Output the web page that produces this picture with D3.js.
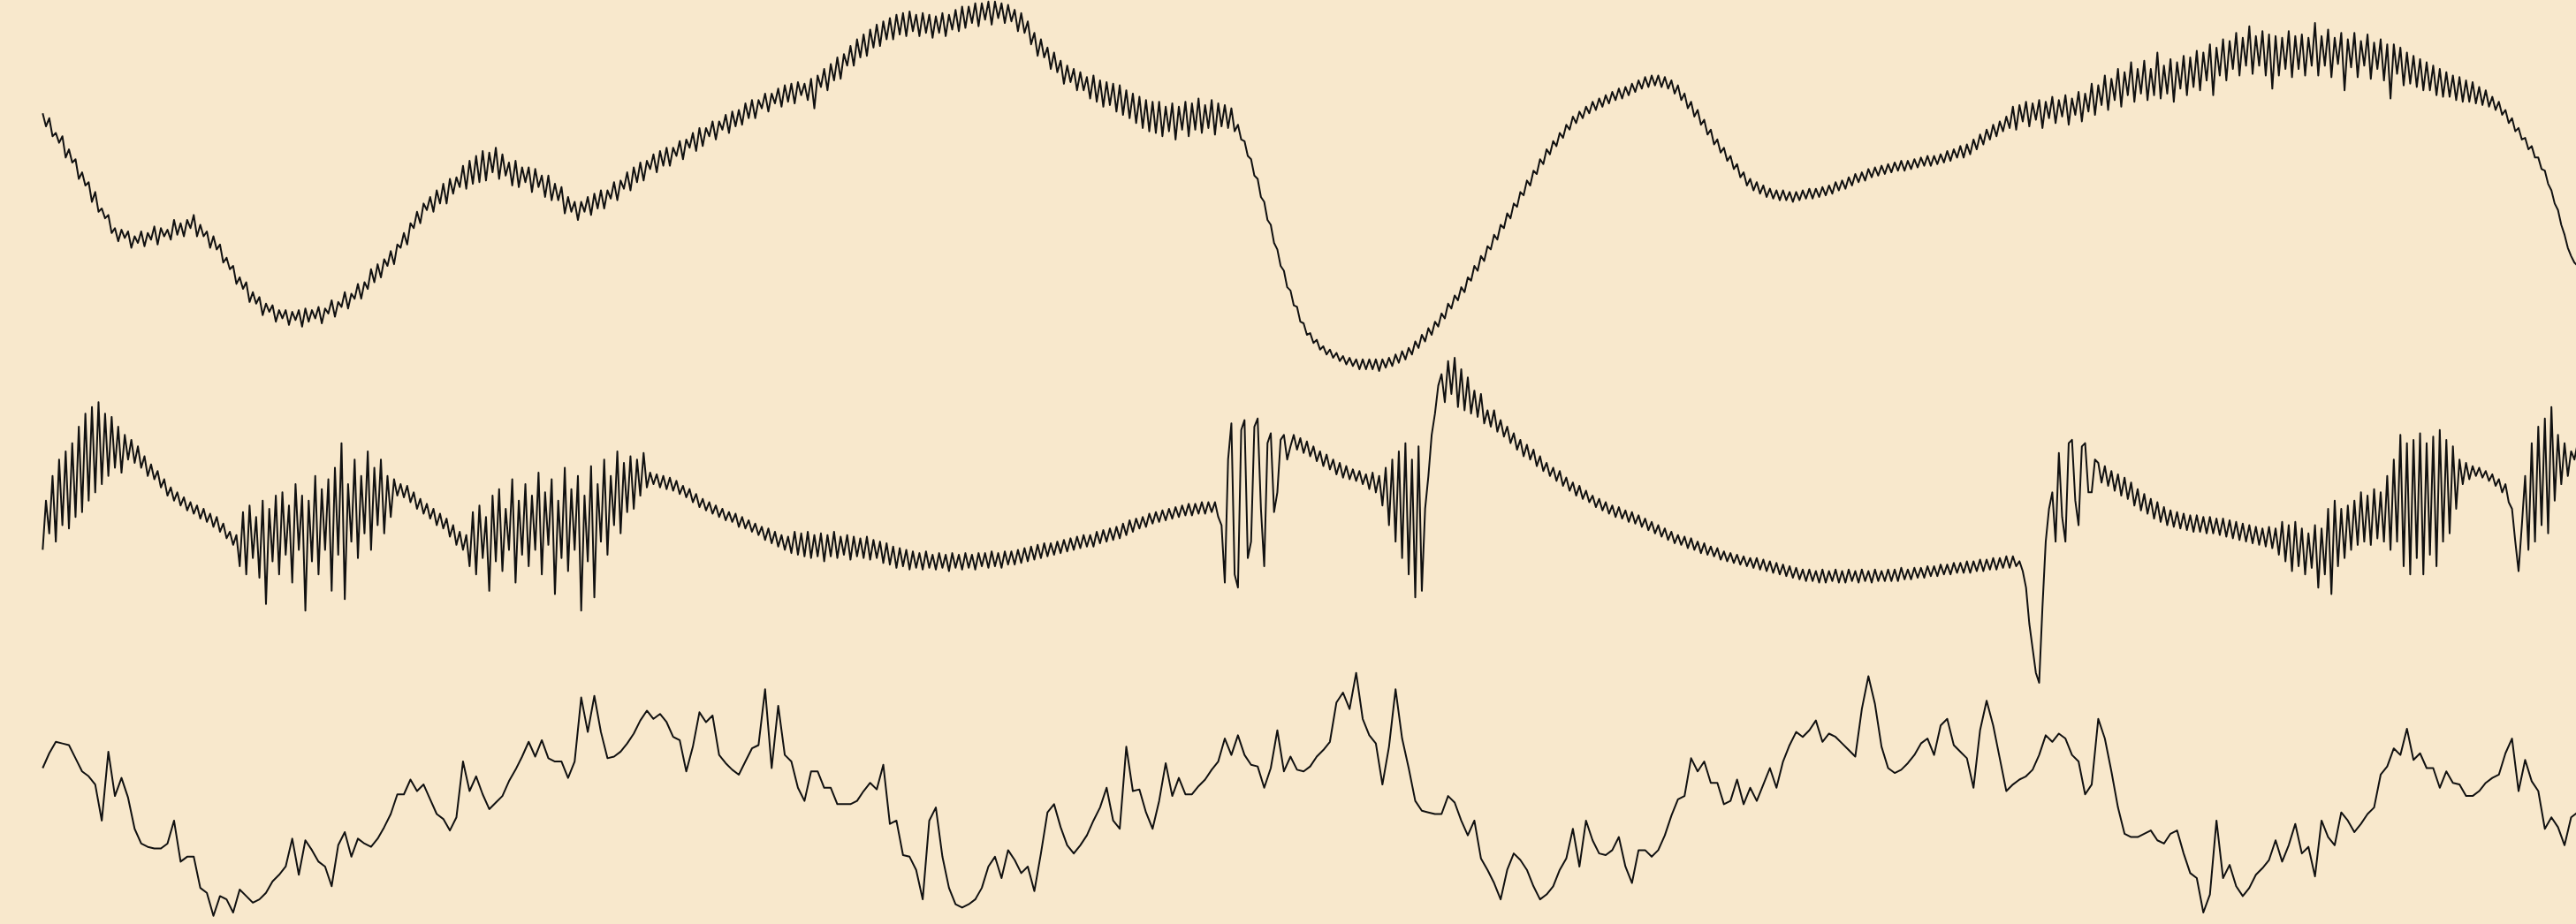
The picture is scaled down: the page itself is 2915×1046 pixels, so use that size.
<!DOCTYPE html>
<meta charset="utf-8">
<style>
body { margin: 0; background: #f8e8cc; }
svg { display: block; }
</style>
<svg width="2915" height="1046"></svg>
<script src="https://d3js.org/d3.v7.min.js"></script>
<script>

// top trace, read every half step
var series1 = [
161,153,158,147,149,143,147,134,139,131,133,121,125,117,119,107,113,101,103,97,
99,88,91,83,90,85,89,79,86,82,89,80,88,84,92,81,91,86,90,84,
96,87,94,86,96,91,99,86,93,86,89,79,86,78,81,70,73,66,68,57,
61,54,58,46,52,45,49,38,45,40,44,34,41,36,41,32,40,35,41,31,
42,34,41,36,43,33,42,39,47,37,46,43,52,42,51,48,57,48,58,54,
66,58,69,61,72,68,77,69,81,79,88,81,94,91,101,94,106,102,110,101,
114,106,118,106,121,112,122,116,129,115,132,118,135,119,138,120,137,125,140,121,
136,123,131,117,132,116,128,119,128,113,127,116,123,110,123,108,118,108,116,100,
110,101,107,96,107,101,110,99,112,103,114,103,114,109,119,108,120,115,125,114,
128,119,131,120,132,127,136,125,138,129,140,129,140,135,144,133,145,140,149,138,
152,141,152,147,156,145,156,151,160,149,162,153,163,154,167,158,169,158,169,164,
173,162,173,167,176,165,178,168,179,167,180,172,179,169,182,164,184,177,188,175,
191,181,195,182,197,190,202,190,206,195,209,196,212,201,215,202,217,206,219,206,
221,209,222,208,223,211,221,208,222,210,221,207,220,210,222,208,221,212,224,211,
226,213,226,216,228,214,228,218,229,215,229,219,228,216,227,217,224,211,222,210,
217,203,210,196,206,195,201,188,198,186,193,179,190,180,188,175,186,175,183,170,
184,168,181,165,180,166,179,162,178,160,175,158,173,155,171,152,169,150,168,149,
168,147,165,150,167,145,165,151,168,147,167,151,170,149,166,152,169,148,167,153,
166,152,164,150,154,145,144,135,133,123,121,110,107,96,93,82,78,68,65,55,
53,44,43,34,33,26,27,21,23,17,19,14,17,12,15,10,13,8,12,7,
11,5,11,5,11,5,11,4,11,6,12,7,14,9,16,11,18,14,22,18,
26,22,30,26,34,31,39,36,45,42,50,47,55,52,61,59,68,65,74,71,
80,78,87,84,93,91,100,97,106,104,113,111,120,117,126,124,133,130,139,136,
144,141,149,146,154,151,159,155,162,158,165,161,168,163,170,165,172,167,174,169,
176,170,177,172,179,174,181,176,183,177,184,178,184,177,183,176,181,173,178,169,
173,164,168,159,163,154,157,148,151,142,145,137,140,132,135,127,130,122,125,117,
121,114,119,112,117,110,115,109,114,108,114,108,113,107,113,108,114,109,115,109,
115,110,116,111,117,112,119,114,120,115,122,117,124,119,125,120,127,122,128,123,
129,124,130,125,131,126,132,126,132,127,133,128,134,129,135,129,135,130,136,131,
138,132,139,134,141,134,142,136,145,139,148,142,151,145,154,147,156,150,159,152,
165,151,166,156,168,153,167,157,169,152,168,158,171,155,169,159,172,154,170,160,
174,156,173,162,179,160,178,166,184,163,182,169,188,165,186,172,192,168,188,173,
193,169,188,172,198,170,190,173,194,168,192,176,196,172,195,177,199,175,198,181,
203,172,201,184,206,181,205,188,210,184,207,190,214,185,208,190,211,184,209,176,
208,184,207,188,211,183,208,188,209,184,207,190,216,184,208,190,212,183,207,191,
210,175,206,189,210,183,205,190,209,182,204,188,206,181,203,170,203,185,201,178,
198,179,196,177,194,175,192,175,190,172,188,171,186,171,184,169,183,168,181,168,
180,167,177,166,175,165,171,163,168,160,163,155,158,150,152,145,146,139,141,134,
134,127,126,118,114,106,102,93,87,79,74,70,68
]

// middle trace, read every half step
var series2 = [
95,125,105,140,100,150,110,155,108,160,115,170,118,178,125,182,130,185,135,178,
140,176,145,170,142,165,150,162,148,158,145,152,140,147,138,143,133,138,128,133,
125,130,122,127,119,124,117,122,114,120,112,117,109,115,106,111,102,106,98,104,
85,118,80,122,90,115,78,125,62,120,88,128,80,130,92,122,75,135,95,128,
58,125,88,140,80,132,95,138,70,145,92,160,65,135,100,150,90,140,105,155,
95,145,110,150,105,140,115,138,128,135,127,134,124,130,120,126,117,123,114,120,
110,117,108,114,103,110,98,106,95,104,85,118,80,122,90,115,70,128,88,132,
82,120,95,138,75,125,92,135,85,128,95,142,80,130,98,138,68,125,90,145,
82,132,95,140,58,128,88,146,66,135,100,150,92,140,110,155,105,148,118,152,
120,150,128,154,133,142,135,141,133,140,132,139,131,137,129,134,127,132,124,129,
121,126,119,124,117,122,115,120,113,118,112,117,109,115,108,113,106,111,104,109,
101,108,99,106,97,104,95,103,93,106,92,105,91,106,90,104,91,105,88,104,
91,106,90,103,92,104,89,103,91,102,90,103,89,101,90,100,87,99,86,97,
84,96,85,95,83,94,84,93,83,94,84,92,83,93,84,92,82,93,84,92,
83,93,84,92,83,93,85,93,84,94,85,93,84,94,86,94,86,95,87,96,
88,97,89,98,90,99,91,99,92,100,93,101,94,102,95,103,96,104,97,104,
97,106,99,107,100,108,101,109,102,111,104,113,106,114,108,115,109,117,111,118,
112,119,113,120,114,121,115,122,116,123,116,123,117,124,117,124,118,124,115,110,
75,150,172,80,72,168,174,90,100,170,175,120,85,160,166,118,130,162,165,150,
158,165,156,163,154,161,152,158,149,155,146,153,144,150,141,148,139,146,138,144,
137,143,135,141,132,142,130,140,122,145,110,150,100,155,90,160,80,150,66,158,
70,120,140,165,178,195,202,185,210,190,212,182,205,180,200,178,192,176,190,172,
180,170,180,167,174,164,170,160,166,156,162,152,159,150,156,146,152,143,148,140,
145,137,143,134,139,131,136,128,134,126,131,124,128,121,126,119,124,117,122,115,
121,114,119,112,118,111,116,109,114,107,112,105,110,103,108,101,106,99,104,98,
103,96,102,95,100,93,99,92,97,91,96,89,94,88,93,87,92,86,91,85,
90,84,90,83,89,82,88,81,87,80,86,79,85,78,84,77,83,76,83,76,
82,75,83,75,82,76,83,75,82,75,83,76,82,75,83,76,82,75,83,76,
82,76,83,76,83,76,84,77,83,77,84,78,84,78,85,79,85,79,86,80,
86,80,87,81,87,81,88,81,88,82,89,82,89,83,90,83,90,84,91,84,
91,85,88,82,72,50,35,20,14,60,100,120,130,100,154,115,100,160,162,125,
110,158,160,130,130,150,148,136,146,134,143,131,141,128,139,126,136,122,132,119,
129,117,126,114,124,112,121,110,119,109,118,108,117,107,116,106,116,106,115,105,
115,105,114,104,114,103,113,102,112,101,111,100,110,99,109,98,108,97,109,96,
108,92,112,88,110,82,112,85,108,80,105,84,110,72,108,80,120,68,125,85,
120,90,122,95,125,98,130,100,128,98,132,102,130,100,140,95,150,100,165,85,
160,80,162,90,166,80,160,92,164,85,168,100,162,105,158,120,150,135,148,138,
146,140,145,139,143,137,141,134,138,130,135,124,120,100,82,110,140,95,160,100,
170,110,175,105,182,125,165,135,160,140,155,150,160
]

// bottom trace, read every step
var series3 = [
102,111,118,117,116,108,100,97,92,70,
112,85,96,84,65,56,54,53,53,56,
70,45,48,48,29,26,12,24,22,14,
28,24,20,22,26,33,37,42,59,37,
58,52,45,42,30,55,63,48,59,56,
54,59,66,74,86,86,95,88,92,83,
74,71,64,72,106,88,97,86,77,81,
85,94,101,109,118,109,119,108,106,106,
96,106,145,124,146,124,108,109,112,117,
123,131,137,132,135,130,121,119,100,115,
136,130,134,110,105,101,98,106,114,116,
150,102,140,110,106,90,82,100,100,90,
90,80,80,80,82,88,93,89,104,68,
70,49,48,40,22,70,78,48,29,19,
17,19,22,29,42,48,35,52,46,38,
42,27,50,75,80,66,55,50,55,61,
70,78,90,70,65,115,88,89,75,65,
82,105,85,96,86,86,91,95,101,106,
120,110,122,110,104,103,90,102,125,100,
109,101,100,103,109,113,118,142,148,138,
160,132,122,117,92,115,150,120,102,82,
76,75,74,74,85,81,70,61,70,47,
40,32,22,40,50,46,40,30,22,25,
30,40,47,65,42,70,58,50,49,52,
60,42,32,52,52,48,52,61,73,83,
85,108,100,106,93,93,80,82,95,80,
90,82,92,102,90,106,116,124,121,125,
131,118,123,121,117,113,109,138,158,141,
115,102,99,101,105,110,117,120,110,128,
132,116,112,108,90,125,143,128,108,88,
92,95,97,101,110,122,118,123,120,110,
106,86,92,132,120,100,78,62,60,60,
62,64,58,56,62,64,50,38,35,14,
25,70,35,43,30,24,29,37,41,46,
58,45,55,68,50,54,36,70,60,55,
75,70,63,68,74,78,98,103,114,110,
126,107,111,102,102,90,100,93,92,85,
85,88,93,96,98,111,120,88,107,94,
88,65,72,66,55,72,75
]

// each trace sits on its own baseline
var rows = [
	{name: 'series1', values: series1, base: 230},
	{name: 'series2', values: series2, base: 430},
	{name: 'series3', values: series3, base: 570}
]

var width = 2915,
	height = 1046,
	unit = height / 563,
	stroke = '#111111'

var svg = d3.select('svg')

rows.forEach(function(r) {
	var x = d3.scaleLinear()
		.domain([0, r.values.length - 1])
		.range([26 * unit, 1570 * unit])

	var y = d3.scaleLinear()
		.domain([0, 250])
		.range([r.base * unit, (r.base - 250) * unit])

	var line = d3.line()
		.x(function(d, i) { return x(i) })
		.y(function(d) { return y(d) })

	svg.append('path')
		.datum(r.values)
		.attr('class', r.name)
		.attr('d', line)
		.style('fill', 'none')
		.style('stroke', stroke)
		.style('stroke-width', 2)
		.style('stroke-linejoin', 'round')
})

</script>
